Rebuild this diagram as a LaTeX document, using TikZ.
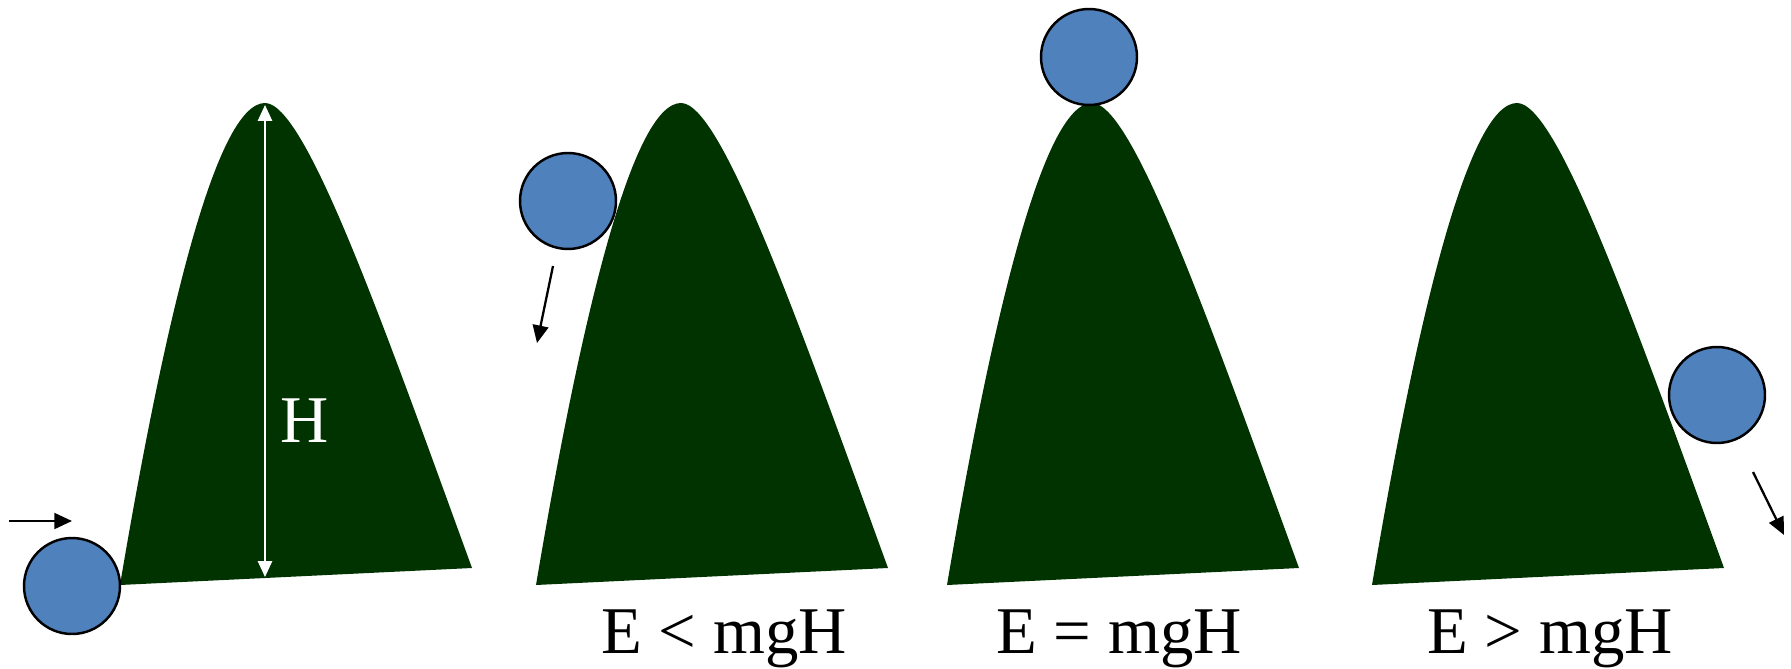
\documentclass[tikz,border=0pt]{standalone}
\usepackage{fontspec}
\setmainfont{Liberation Serif}
\usetikzlibrary{arrows.meta}
\definecolor{hillgreen}{HTML}{003300}
\definecolor{ballblue}{HTML}{4F81BD}
\begin{document}
\begin{tikzpicture}[
    x=0.02cm, y=-0.02cm,
    font=\fontsize{38}{44}\selectfont,
    hill/.style={fill=hillgreen},
    ball/.style={circle, draw=black, line width=1.4pt, fill=ballblue, minimum size=1.92cm, inner sep=0pt},
    push/.style={line width=1.3pt, -{Triangle[length=10pt, width=9pt]}},
    height/.style={white, line width=1.2pt, {Triangle[length=9pt, width=8pt]}-{Triangle[length=9pt, width=8pt]}},
    lbl/.style={anchor=base, inner sep=0pt}
]
\useasboundingbox (0,0) rectangle (1791,669);

\foreach \dx in {0,416,827,1252} {
  \fill[hill, shift={(\dx,0)}] (120,585) .. controls (163,330) and (215,103) .. (265,103)
    .. controls (305,103) and (380,315) .. (472,568) -- cycle;
}

\coordinate (top) at (265,105);
\coordinate (foot) at (265,577);
\draw[height] (top) -- (foot);
\node[lbl, white] (hmark) at (305,442) {H};

\node[ball] (ball1) at (72,586) {};
\node[ball] (ball2) at (568,201) {};
\node[ball] (ball3) at (1089,57) {};
\node[ball] (ball4) at (1717,395) {};

\coordinate (push1a) at (9,521);
\coordinate (push1b) at (72,521);
\coordinate (push2a) at (553,266);
\coordinate (push2b) at (537,343);
\coordinate (push4a) at (1753,472);
\coordinate (push4b) at (1784,535);
\draw[push] (push1a) -- (push1b);
\draw[push] (push2a) -- (push2b);
\draw[push] (push4a) -- (push4b);

\node[lbl] (less) at (724,653) {E < mgH};
\node[lbl] (equal) at (1119,653) {E = mgH};
\node[lbl] (more) at (1550,653) {E > mgH};
\end{tikzpicture}
\end{document}
